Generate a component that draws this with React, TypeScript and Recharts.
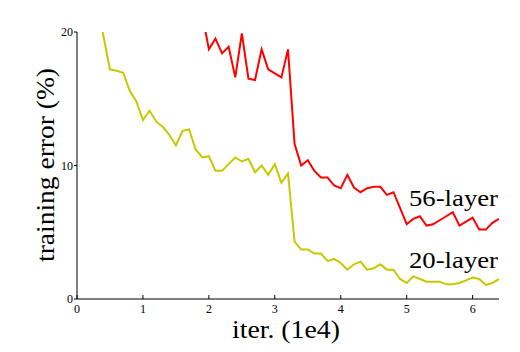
import { LineChart, Line, XAxis, YAxis } from 'recharts';

const iter20 = [0.3, 0.4, 0.5, 0.6, 0.7, 0.8, 0.9, 1.0, 1.1, 1.2, 1.3, 1.4, 1.5, 1.6, 1.7, 1.8, 1.9, 2.0, 2.1, 2.2, 2.3, 2.4, 2.5, 2.6, 2.7, 2.8, 2.9, 3.0, 3.1, 3.2, 3.3, 3.4, 3.5, 3.6, 3.7, 3.8, 3.9, 4.0, 4.1, 4.2, 4.3, 4.4, 4.5, 4.6, 4.7, 4.8, 4.9, 5.0, 5.1, 5.2, 5.3, 5.4, 5.5, 5.6, 5.7, 5.8, 5.9, 6.0, 6.1, 6.2, 6.3, 6.4];
const err20 = [22.5, 19.7, 17.2, 17.1, 16.95, 15.6, 14.8, 13.4, 14.1, 13.3, 12.9, 12.3, 11.5, 12.6, 12.7, 11.2, 10.6, 10.7, 9.6, 9.6, 10.1, 10.6, 10.3, 10.5, 9.5, 10.0, 9.3, 10.1, 8.7, 9.4, 4.3, 3.7, 3.7, 3.4, 3.4, 2.85, 3.0, 2.7, 2.2, 2.6, 2.8, 2.2, 2.3, 2.6, 2.2, 2.2, 1.5, 1.2, 1.7, 1.5, 1.3, 1.3, 1.3, 1.1, 1.1, 1.2, 1.4, 1.6, 1.5, 1.05, 1.2, 1.5];

const iter56 = [1.9, 2.0, 2.1, 2.2, 2.3, 2.4, 2.5, 2.6, 2.7, 2.8, 2.9, 3.0, 3.1, 3.2, 3.3, 3.4, 3.5, 3.6, 3.7, 3.8, 3.9, 4.0, 4.1, 4.2, 4.3, 4.4, 4.5, 4.6, 4.7, 4.8, 4.9, 5.0, 5.1, 5.2, 5.3, 5.4, 5.5, 5.6, 5.7, 5.8, 5.9, 6.0, 6.1, 6.2, 6.3, 6.4];
const err56 = [21.3, 18.7, 19.5, 18.4, 18.9, 16.6, 19.9, 16.5, 16.4, 18.7, 17.2, 16.9, 16.6, 18.7, 11.6, 10.0, 10.4, 9.6, 9.1, 9.1, 8.5, 8.3, 9.3, 8.35, 8.0, 8.3, 8.4, 8.4, 7.8, 8.0, 6.8, 5.6, 6.0, 6.2, 5.5, 5.6, 5.9, 6.2, 6.5, 5.5, 5.8, 6.1, 5.2, 5.2, 5.7, 6.0];

const xTicks = [0, 1, 2, 3, 4, 5, 6];
const yTicks = [0, 10, 20];

const data20 = iter20.map((x, i) => ({ x, err: err20[i] }));
const data56 = iter56.map((x, i) => ({ x, err: err56[i] }));

const FONT = '"Liberation Serif", "Times New Roman", serif';

const XTick = (props: any) => {
  const { x, y, payload } = props;
  return (
    <g>
      <line x1={x} y1={y} x2={x} y2={y - 4} stroke="#000" strokeWidth={1} />
      <text x={x} y={y + 14} textAnchor="middle" fontFamily={FONT} fontSize={12} fill="#000">
        {payload.value}
      </text>
    </g>
  );
};

const YTick = (props: any) => {
  const { x, y, payload } = props;
  return (
    <g>
      <line x1={x - 3} y1={y} x2={x} y2={y} stroke="#000" strokeWidth={1} />
      <text x={x - 4} y={y + 4} textAnchor="end" fontFamily={FONT} fontSize={12} fill="#000">
        {payload.value}
      </text>
    </g>
  );
};

export default function App() {
  return (
    <div style={{ position: 'absolute', left: 0, top: 0, width: 520, height: 352, background: '#fff' }}>
      <LineChart width={520} height={352} margin={{ top: 32, right: 21, bottom: 0, left: 0 }}>
        <XAxis
          type="number"
          dataKey="x"
          domain={[0, 6.4]}
          ticks={xTicks}
          allowDataOverflow
          height={53}
          tickSize={0}
          tickMargin={0}
          tickLine={false}
          axisLine={{ stroke: '#000', strokeWidth: 1 }}
          tick={<XTick />}
        />
        <YAxis
          type="number"
          domain={[0, 20]}
          ticks={yTicks}
          allowDataOverflow
          width={77}
          tickSize={0}
          tickMargin={0}
          tickLine={false}
          axisLine={{ stroke: '#000', strokeWidth: 1 }}
          tick={<YTick />}
        />
        <Line data={data20} dataKey="err" type="linear" stroke="#c8c800" strokeWidth={2} dot={false} isAnimationActive={false} />
        <Line data={data56} dataKey="err" type="linear" stroke="#ff0000" strokeWidth={2} dot={false} isAnimationActive={false} />
      </LineChart>
      <svg width={520} height={352} style={{ position: 'absolute', left: 0, top: 0, pointerEvents: 'none' }}>
        <text x={54} y={165} transform="rotate(-90 54 165)" textAnchor="middle" fontFamily={FONT} fontSize={24.5} textLength={194} lengthAdjust="spacingAndGlyphs" fill="#000">
          training error (%)
        </text>
        <text x={286} y={338} textAnchor="middle" fontFamily={FONT} fontSize={24.5} textLength={108} lengthAdjust="spacingAndGlyphs" fill="#000">
          iter. (1e4)
        </text>
        <text x={498} y={206} textAnchor="end" fontFamily={FONT} fontSize={24} textLength={89} lengthAdjust="spacingAndGlyphs" fill="#000">
          56-layer
        </text>
        <text x={498} y={267.5} textAnchor="end" fontFamily={FONT} fontSize={24} textLength={89} lengthAdjust="spacingAndGlyphs" fill="#000">
          20-layer
        </text>
      </svg>
    </div>
  );
}
